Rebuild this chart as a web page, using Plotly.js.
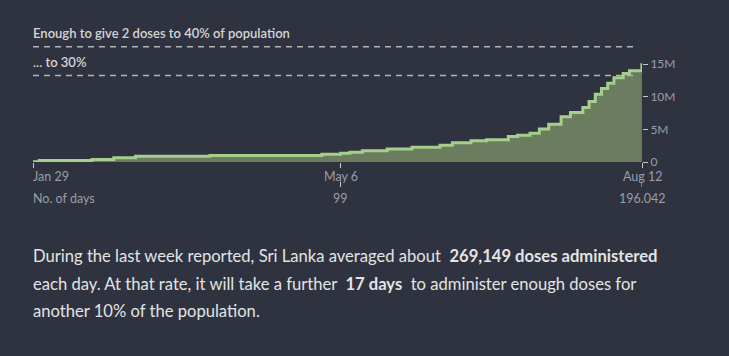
<!DOCTYPE html>
<html>
<head>
<meta charset="utf-8">
<script src="https://cdn.plot.ly/plotly-3.0.1.min.js"></script>
<style>
  html, body { margin: 0; padding: 0; background: #2e333f; }
  #chart { width: 729px; height: 356px; }
</style>
</head>
<body>
<div id="chart"></div>
<script>
// Days since first dose (x) and cumulative doses administered (y)
const days = [0, 2, 19, 26, 33, 57, 93, 99, 102, 106, 114, 122, 131, 135, 141, 146, 153, 156, 160, 163, 166, 170, 173, 177, 179, 181, 183, 185, 187, 190, 192, 196];
const doses = [50000, 230000, 380000, 650000, 870000, 1000000, 1200000, 1330000, 1480000, 1740000, 2000000, 2250000, 2560000, 2970000, 3280000, 3430000, 3900000, 4100000, 4400000, 5070000, 5800000, 6960000, 7600000, 8350000, 9270000, 10400000, 11300000, 12100000, 12950000, 13600000, 14000000, 15150000];

// Targets: doses needed for 2 doses to share of population
const target30 = 13280000;
const target40 = 17700000;
const target30Label = "... to 30%";
const target40Label = "Enough to give 2 doses to 40% of population";

// X tick positions and labels
const xTickVals = [0, 99, 196.042];
const xDateLabels = ["Jan 29", "May 6", "Aug 12"];
const xDayLabels = ["No. of days", "99", "196.042"];

// Y ticks
const yTickVals = [0, 5000000, 10000000, 15000000];
const yTickText = ["0", "5M", "10M", "15M"];

// Summary text
const avgDoses = "269,149 doses administered";
const daysFurther = "17 days";
const summaryLines = [
  "During the last week reported, Sri Lanka averaged about  <b>" + avgDoses + "</b>",
  "each day. At that rate, it will take a further  <b>" + daysFurther + "</b>  to administer enough doses for",
  "another 10% of the population."
];

const FONT = "Lato, 'Open Sans', sans-serif";
const tickGray = "#9a9ea6";

const plotTop = 20, plotBottom = 162, plotH = plotBottom - plotTop;
const py = (p) => (plotBottom - p) / plotH; // pixel row -> paper y

const trace = {
  x: days,
  y: doses,
  type: "scatter",
  mode: "lines",
  line: { shape: "hv", color: "#a5cf8c", width: 3 },
  fill: "tozeroy",
  fillcolor: "#6b7d5e",
  hoverinfo: "skip"
};

const annotations = [];
// target labels
annotations.push({ x: 0, xref: "x", y: target40, yref: "y", text: target40Label, showarrow: false, xanchor: "left", yanchor: "middle", xshift: -2, yshift: 14, font: { family: FONT, size: 13, color: "#d6d6d6", weight: 600 } });
annotations.push({ x: 0, xref: "x", y: target30, yref: "y", text: target30Label, showarrow: false, xanchor: "left", yanchor: "middle", xshift: -2, yshift: 14, font: { family: FONT, size: 13, color: "#d6d6d6", weight: 600 } });
// x labels
xTickVals.forEach((v, i) => {
  const anchor = i === 0 ? "left" : "center";
  const xs = i === 0 ? -2 : 0;
  annotations.push({ x: v, xref: "x", y: 0, yref: "paper", text: xDateLabels[i], showarrow: false, xanchor: anchor, yanchor: "middle", xshift: xs, yshift: -14, font: { family: FONT, size: 12.5, color: tickGray } });
  annotations.push({ x: v, xref: "x", y: 0, yref: "paper", text: xDayLabels[i], showarrow: false, xanchor: anchor, yanchor: "middle", xshift: xs, yshift: -36, font: { family: FONT, size: 12.5, color: tickGray } });
});
// summary paragraph
const lineRows = [256, 284, 311];
summaryLines.forEach((t, i) => {
  annotations.push({ x: 0, xref: "paper", y: py(lineRows[i]), yref: "paper", text: t, showarrow: false, xanchor: "left", yanchor: "middle", xshift: -2, font: { family: FONT, size: 16.6, color: "#e4e4e4" } });
});

const shapes = [
  { type: "line", xref: "paper", x0: 0, x1: 0.993, yref: "y", y0: target40, y1: target40, line: { color: "#b4b4b4", width: 1.5, dash: "6px,5px" } },
  { type: "line", xref: "paper", x0: 0, x1: 0.993, yref: "y", y0: target30, y1: target30, line: { color: "#b4b4b4", width: 1.5, dash: "6px,5px" } }
];
// small secondary ticks above day counts
xTickVals.slice(1).forEach(v => {
  shapes.push({ type: "line", xref: "x", x0: v, x1: v, yref: "paper", y0: py(181.5), y1: py(187), line: { color: "#c8c8c8", width: 1 } });
});

const layout = {
  width: 729,
  height: 356,
  margin: { l: 33, r: 87, t: plotTop, b: 356 - plotBottom, pad: 0 },
  paper_bgcolor: "#2e333f",
  plot_bgcolor: "#2e333f",
  showlegend: false,
  xaxis: {
    range: [0, 196.042],
    tickvals: xTickVals,
    showticklabels: false,
    ticks: "outside",
    ticklen: 5,
    tickcolor: "#c8c8c8",
    tickwidth: 1,
    showgrid: false,
    zeroline: false,
    showline: false,
    fixedrange: true
  },
  yaxis: {
    side: "right",
    range: [0, 21800000],
    tickvals: yTickVals,
    ticktext: yTickText,
    ticks: "outside",
    ticklen: 5,
    tickcolor: "#c8c8c8",
    tickwidth: 1,
    tickfont: { family: FONT, size: 12, color: tickGray },
    showgrid: false,
    zeroline: false,
    showline: false,
    fixedrange: true
  },
  annotations: annotations,
  shapes: shapes
};

Plotly.newPlot("chart", [trace], layout, { displayModeBar: false, staticPlot: true });
</script>
</body>
</html>
